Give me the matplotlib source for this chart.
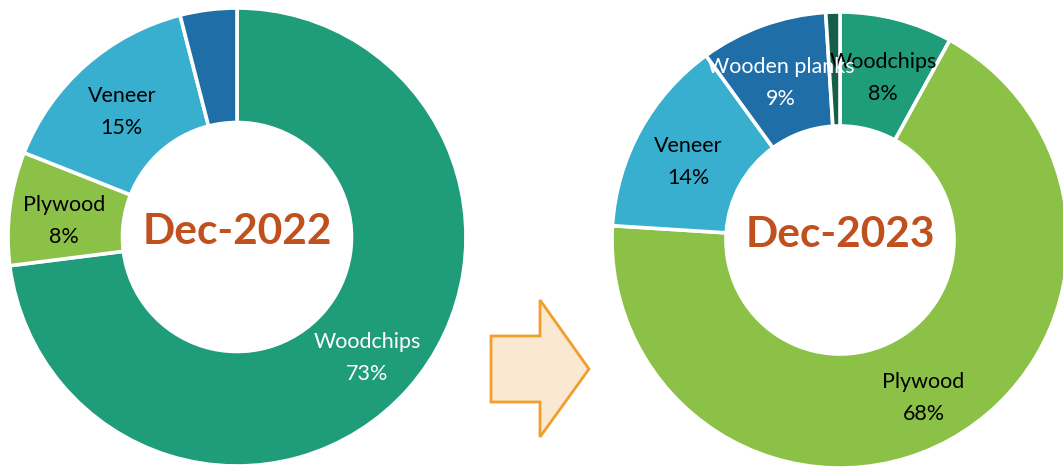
import matplotlib
matplotlib.use("Agg")
import matplotlib.pyplot as plt
import numpy as np
from matplotlib.patches import Polygon

plt.rcParams['font.family'] = ['Lato', 'DejaVu Sans']

# data
labels_2022 = ['Woodchips', 'Plywood', 'Veneer', 'Wooden planks']
values_2022 = [73, 8, 15, 4]
colors_2022 = ['#1F9C79', '#8BC146', '#38AFCF', '#1F6EA8']
text_2022 = ['white', 'black', 'black', 'black']

labels_2023 = ['Woodchips', 'Plywood', 'Veneer', 'Wooden planks', 'Others']
values_2023 = [8, 68, 14, 9, 1]
colors_2023 = ['#1F9C79', '#8BC146', '#38AFCF', '#1F6EA8', '#145E4A']
text_2023 = ['black', 'black', 'black', 'white', None]

W, H = 1063, 468
fig = plt.figure(figsize=(W / 100, H / 100), dpi=100)


def donut(cx, cy, r, labels, values, colors, tcolors, title, skip_label=()):
    ax = fig.add_axes([(cx - r) / W, (H - cy - r) / H, 2 * r / W, 2 * r / H])
    wedges, _ = ax.pie(values, colors=colors, startangle=90, counterclock=False,
                       radius=1, wedgeprops=dict(width=0.5, edgecolor='white', linewidth=2.6))
    ax.set_xlim(-1, 1)
    ax.set_ylim(-1, 1)
    ax.axis('off')
    total = sum(values)
    cum = 0
    for lab, v, tc in zip(labels, values, tcolors):
        mid = (cum + v / 2) / total * 2 * np.pi
        cum += v
        if tc is None or lab in skip_label:
            continue
        x = 0.76 * np.sin(mid)
        y = 0.76 * np.cos(mid) - 0.025
        ax.text(x, y, f"{lab}\n{v}%", ha='center', va='center', fontsize=15.5,
                color=tc, linespacing=1.75)
    ax.text(0, 0.02, title, ha='center', va='center', fontsize=30.5, fontweight='bold',
            color='#C0501E')
    return ax


ax1 = donut(237, 237, 229, labels_2022, values_2022, colors_2022, text_2022,
            'Dec-2022', skip_label=('Wooden planks',))
# label of the small slice sits above the crop
ax1.text(-0.45, 1.12, "Wooden planks\n4%", ha='center', va='bottom', fontsize=15.5,
         color='black', linespacing=1.75, clip_on=False)

ax2 = donut(840, 240, 228, labels_2023, values_2023, colors_2023, text_2023, 'Dec-2023')

# arrow between the charts (pixel coords, y from top)
arrow_px = [(491, 336), (540, 336), (540, 300), (589, 369), (540, 437), (540, 402), (491, 402)]
arrow = Polygon([(x / W, 1 - y / H) for x, y in arrow_px], closed=True,
                transform=fig.transFigure, facecolor='#FBE8D2', edgecolor='#F0A02A',
                linewidth=2)
fig.patches.append(arrow)

fig.savefig('out.png', dpi=100)
